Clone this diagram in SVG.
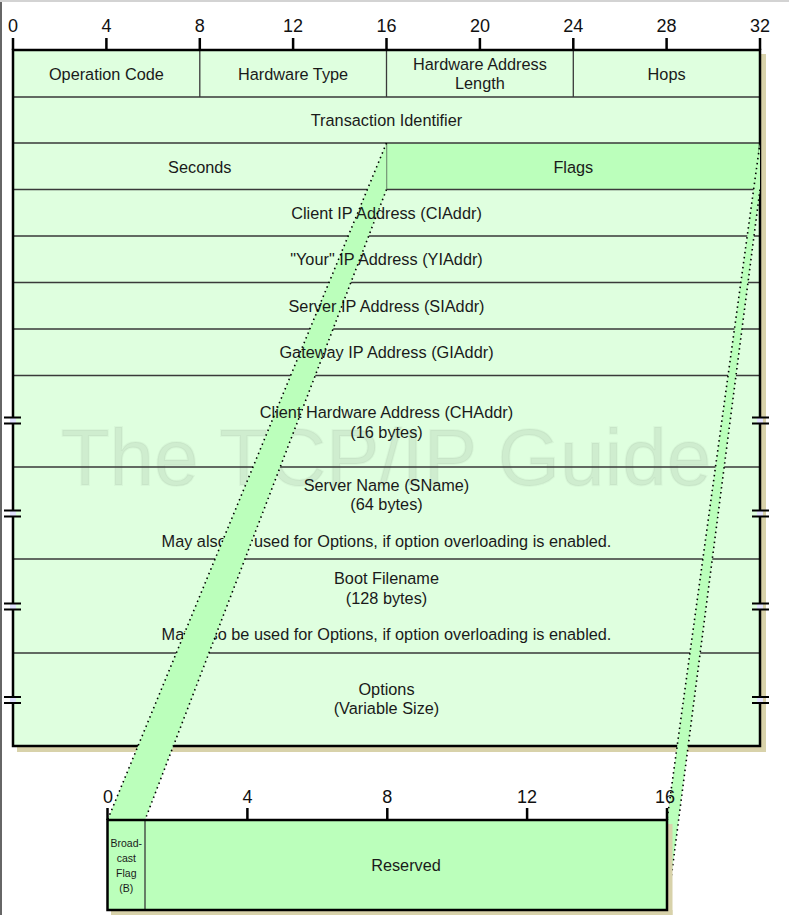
<svg xmlns="http://www.w3.org/2000/svg" width="789" height="915" viewBox="0 0 789 915">
<defs>
<style>
.t{font-family:"Liberation Sans",Arial,sans-serif;font-size:16.3px;fill:#1a1a1a;text-anchor:middle;dominant-baseline:central}
.s{font-family:"Liberation Sans",Arial,sans-serif;font-size:10.5px;fill:#1a1a1a;text-anchor:middle;dominant-baseline:central}
.r{font-family:"Liberation Sans",Arial,sans-serif;font-size:18px;fill:#111;text-anchor:middle}
.b{stroke:#000;stroke-width:2.5;fill:none}
.g{stroke:#3a3a3a;stroke-width:1.3;fill:none}
.sh{fill:#d8d2aa}
.band{fill:#bbffbb;stroke:none}
.dot{stroke:#000;stroke-width:1.6;stroke-dasharray:1.5 3.5;fill:none}
.brk{fill:#e2e2ff}
</style>
</defs>
<rect width="789" height="915" fill="#fff"/>
<line x1="0" y1="1" x2="789" y2="1" stroke="#c4c4c4" stroke-width="1.5"/>
<line x1="1" y1="2" x2="1" y2="915" stroke="#333" stroke-width="1.5"/>

<g id="ruler-top">
<text class="r" x="13" y="32">0</text>
<text class="r" x="106.4" y="32">4</text>
<text class="r" x="199.8" y="32">8</text>
<text class="r" x="293.1" y="32">12</text>
<text class="r" x="386.5" y="32">16</text>
<text class="r" x="479.9" y="32">20</text>
<text class="r" x="573.3" y="32">24</text>
<text class="r" x="666.6" y="32">28</text>
<text class="r" x="760" y="32">32</text>
<path class="b" d="M13 38V50M106.4 38V50M199.8 38V50M293.1 38V50M386.5 38V50M479.9 38V50M573.3 38V50M666.6 38V50M760 38V50"/>
</g>

<g id="table">
<rect class="sh" x="760" y="54" width="6" height="698"/>
<rect class="sh" x="17" y="746" width="749" height="6"/>
<rect x="13" y="50" width="747" height="696" fill="#dfffdf"/>
<rect x="386.5" y="143" width="373.5" height="46.5" fill="#bbffbb"/>
<text x="386" y="485" text-anchor="middle" font-family="Liberation Sans,Arial,sans-serif" font-size="80" fill="#000" fill-opacity="0.07" stroke="#000" stroke-opacity="0.03" stroke-width="2">The TCP/IP Guide</text>
<path class="g" d="M13 97H760M13 143H760M13 189.5H760M13 236H760M13 282.5H760M13 329H760M13 375.5H760M13 467H760M13 559H760M13 653H760"/>
<path class="g" d="M199.8 50V97M386.5 50V97M573.3 50V97M386.5 143V189.5"/>
<rect class="b" x="13" y="50" width="747" height="696"/>
<g id="overload-notes">
<text class="t" x="386.5" y="541">May also be used for Options, if option overloading is enabled.</text>
<text class="t" x="386.5" y="634">May also be used for Options, if option overloading is enabled.</text>
</g>
</g>

<g id="breaks">
<g id="break-left">
<rect class="brk" x="10" y="417.5" width="6" height="6"/>
<rect class="brk" x="10" y="510.5" width="6" height="6"/>
<rect class="brk" x="10" y="603.5" width="6" height="6"/>
<rect class="brk" x="10" y="697" width="6" height="6"/>
<path stroke="#000" stroke-width="2" d="M4 417.5H21M4 423.5H21M4 510.5H21M4 516.5H21M4 603.5H21M4 609.5H21M4 697H21M4 703H21"/>
</g>
<g id="break-right">
<rect class="brk" x="757" y="417.5" width="6" height="6"/>
<rect class="brk" x="757" y="510.5" width="6" height="6"/>
<rect class="brk" x="757" y="603.5" width="6" height="6"/>
<rect class="brk" x="757" y="697" width="6" height="6"/>
<path stroke="#000" stroke-width="2" d="M752 417.5H769M752 423.5H769M752 510.5H769M752 516.5H769M752 603.5H769M752 609.5H769M752 697H769M752 703H769"/>
</g>
</g>

<g id="connectors">
<polygon class="band" points="386.5,143 386.5,189.5 145,820 107.5,820"/>
<polygon class="band" points="760,143 760,189.5 667,910 667,820"/>
</g>

<g id="labels">
<g id="opcode"><text class="t" x="106.4" y="73.5">Operation Code</text></g>
<g id="htype"><text class="t" x="293.1" y="73.5">Hardware Type</text></g>
<g id="hlen"><text class="t" x="479.9" y="64">Hardware Address</text><text class="t" x="479.9" y="83">Length</text></g>
<g id="hops"><text class="t" x="666.6" y="73.5">Hops</text></g>
<g id="xid"><text class="t" x="386.5" y="120">Transaction Identifier</text></g>
<g id="secs"><text class="t" x="199.8" y="166.5">Seconds</text></g>
<g id="flags"><text class="t" x="573.3" y="166.5">Flags</text></g>
<g id="ciaddr"><text class="t" x="386.5" y="212.5">Client IP Address (CIAddr)</text></g>
<g id="yiaddr"><text class="t" x="386.5" y="259">"Your" IP Address (YIAddr)</text></g>
<g id="siaddr"><text class="t" x="386.5" y="305.5">Server IP Address (SIAddr)</text></g>
<g id="giaddr"><text class="t" x="386.5" y="352">Gateway IP Address (GIAddr)</text></g>
<g id="chaddr"><text class="t" x="386.5" y="412">Client Hardware Address (CHAddr)</text><text class="t" x="386.5" y="432">(16 bytes)</text></g>
<g id="sname"><text class="t" x="386.5" y="485">Server Name (SName)</text><text class="t" x="386.5" y="504">(64 bytes)</text></g>
<g id="file"><text class="t" x="386.5" y="578">Boot Filename</text><text class="t" x="386.5" y="598">(128 bytes)</text></g>
<g id="options"><text class="t" x="386.5" y="689">Options</text><text class="t" x="386.5" y="708">(Variable Size)</text></g>
</g>

<g id="connector-edges">
<line class="dot" x1="386.5" y1="143" x2="107.5" y2="820"/>
<line class="dot" x1="386.5" y1="189.5" x2="145" y2="820"/>
<line class="dot" x1="760" y1="143" x2="667" y2="820"/>
<line class="dot" x1="760" y1="189.5" x2="667" y2="910"/>
</g>

<g id="ruler-bottom">
<text class="r" x="108" y="803">0</text>
<text class="r" x="247.4" y="803">4</text>
<text class="r" x="387.3" y="803">8</text>
<text class="r" x="527.1" y="803">12</text>
<text class="r" x="665" y="803">16</text>
<path class="b" d="M107.5 808V820M247.4 808V820M387.3 808V820M527.1 808V820M667 808V820"/>
</g>

<g id="flags-detail">
<rect class="sh" x="667" y="824" width="5.5" height="91"/>
<rect class="sh" x="111" y="910" width="561.5" height="5"/>
<rect x="107.5" y="820" width="559.5" height="90" fill="#bbffbb"/>
<line class="g" x1="145" y1="820" x2="145" y2="910"/>
<rect class="b" x="107.5" y="820" width="559.5" height="90"/>
<g id="bflag"><text class="s" x="126.3" y="843">Broad-</text><text class="s" x="126.3" y="858">cast</text><text class="s" x="126.3" y="873">Flag</text><text class="s" x="126.3" y="888">(B)</text></g>
<g id="reserved"><text class="t" x="406" y="865">Reserved</text></g>
</g>
</svg>
